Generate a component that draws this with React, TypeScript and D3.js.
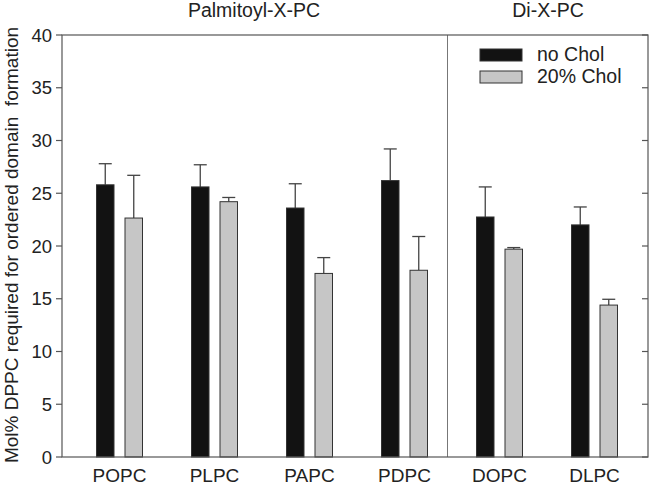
import React from "react";
import * as d3 from "d3";

const categories = ["POPC", "PLPC", "PAPC", "PDPC", "DOPC", "DLPC"];
const noChol = [25.8, 25.6, 23.6, 26.2, 22.75, 22.0];
const noCholErr = [2.0, 2.1, 2.3, 3.0, 2.85, 1.7];
const chol20 = [22.65, 24.2, 17.4, 17.7, 19.7, 14.4];
const chol20Err = [4.05, 0.4, 1.5, 3.2, 0.15, 0.55];
const yTicks = [0, 5, 10, 15, 20, 25, 30, 35, 40];
const seriesNames = ["no Chol", "20% Chol"];
const groupTitles = ["Palmitoyl-X-PC", "Di-X-PC"];

const W = 650, H = 486;
const L = 62, R = 648, T = 35, B = 457;
const FONT = "'Liberation Sans', Arial, sans-serif";

export default function App() {
  const y = d3.scaleLinear().domain([0, 40]).range([B, T]);
  const x = d3.scaleBand().domain(categories).range([72, 642]).padding(0);
  const bw = 17.5, gap = 11, cap = 13;
  const series = [
    { vals: noChol, err: noCholErr, fill: "#121212", off: -gap / 2 - bw },
    { vals: chol20, err: chol20Err, fill: "#c6c6c6", off: gap / 2 },
  ];
  const divX = (x("PDPC")! + x.bandwidth() / 2 + x("DOPC")! + x.bandwidth() / 2) / 2 - 4.5;
  return (
    <svg width={W} height={H} style={{ position: "absolute", left: 0, top: 0, background: "#fff", fontFamily: FONT }}>
      <rect x={0} y={0} width={W} height={H} fill="#fff" />
      {series.map((s, si) =>
        categories.map((c, i) => {
          const cx = x(c)! + x.bandwidth() / 2;
          const bx = cx + s.off;
          const top = y(s.vals[i]);
          const et = y(s.vals[i] + s.err[i]);
          return (
            <g key={si + c}>
              <line x1={bx + bw / 2} x2={bx + bw / 2} y1={top} y2={et} stroke="#444" strokeWidth={1.3} />
              <line x1={bx + bw / 2 - cap / 2} x2={bx + bw / 2 + cap / 2} y1={et} y2={et} stroke="#444" strokeWidth={1.3} />
              <rect x={bx} y={top} width={bw} height={B - top} fill={s.fill} stroke="#333" strokeWidth={1} />
            </g>
          );
        })
      )}
      <line x1={divX} x2={divX} y1={T} y2={B} stroke="#777" strokeWidth={1} />
      <rect x={L} y={T} width={R - L} height={B - T} fill="none" stroke="#555" strokeWidth={1.2} />
      {yTicks.map((t) => (
        <g key={t}>
          <line x1={L - 6} x2={L} y1={y(t)} y2={y(t)} stroke="#555" strokeWidth={1.2} />
          <line x1={R - 6} x2={R} y1={y(t)} y2={y(t)} stroke="#555" strokeWidth={1.2} />
          <text x={L - 10} y={y(t)} dy="0.36em" textAnchor="end" fontSize={18.5} fill="#222">{t}</text>
        </g>
      ))}
      {categories.map((c) => (
        <text key={c} x={x(c)! + x.bandwidth() / 2} y={482} textAnchor="middle" fontSize={19} fill="#222">{c}</text>
      ))}
      <text x={254} y={17} textAnchor="middle" fontSize={19.5} fill="#222">{groupTitles[0]}</text>
      <text x={548} y={17} textAnchor="middle" fontSize={19.5} fill="#222">{groupTitles[1]}</text>
      <text transform={`translate(18,245) rotate(-90)`} textAnchor="middle" fontSize={19} fill="#222">
        Mol% DPPC required for ordered domain{"\u00a0\u00a0"}formation
      </text>
      {seriesNames.map((n, i) => (
        <g key={n}>
          <rect x={480} y={49 + i * 22} width={42} height={12} fill={series[i].fill} stroke="#333" strokeWidth={1} />
          <text x={537} y={61 + i * 22.3} fontSize={19.5} fill="#222">{n}</text>
        </g>
      ))}
    </svg>
  );
}
